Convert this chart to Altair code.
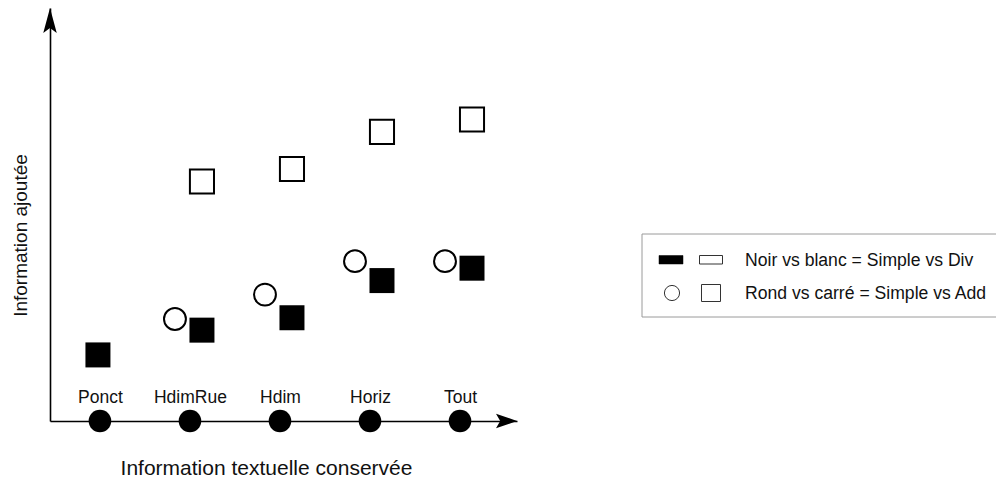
import altair as alt
import pandas as pd

# ---------------- data ----------------
categories = ["Ponct", "HdimRue", "Hdim", "Horiz", "Tout"]
base_simple = [0, 0, 0, 0, 0]                 # filled circles on the axis
carre_noir = [16, 22, 25, 34, 37]             # filled squares
rond_blanc = [None, 24.7, 30.6, 38.7, 38.7]   # open circles
carre_blanc = [None, 58, 61, 70, 73]          # open squares

legend_lines = ["Noir vs blanc = Simple vs Div", "Rond vs carré = Simple vs Add"]
x_title = "Information textuelle conservée"
y_title = "Information ajoutée"

FONT = "Liberation Sans"
W, H = 467, 413

rows = []
for kind, vals in [("base", base_simple), ("noir", carre_noir),
                   ("rond", rond_blanc), ("blanc", carre_blanc)]:
    for c, v in zip(categories, vals):
        if v is not None:
            rows.append({"cat": c, "kind": kind, "val": v})
df = pd.DataFrame(rows)

x_enc = alt.X(
    "cat:N", sort=categories,
    scale=alt.Scale(type="point", padding=0.594, align=0.467),
    axis=alt.Axis(domain=True, domainColor="black", domainWidth=1.6,
                  ticks=False, tickSize=0, grid=False,
                  labelPadding=-19, labelBaseline="alphabetic", labelAngle=0,
                  labelFont=FONT, labelFontSize=17.5, labelColor="#111",
                  title=x_title, titleFont=FONT, titleFontSize=21,
                  titleFontWeight="normal", titleColor="#111",
                  titleX=216, titleY=53, titleAlign="center",
                  titleBaseline="alphabetic"),
)
y_enc = alt.Y(
    "val:Q",
    scale=alt.Scale(domain=[0, 100], nice=False, zero=True),
    axis=alt.Axis(domain=True, domainColor="black", domainWidth=1.6,
                  ticks=False, labels=False, grid=False,
                  title=y_title, titleFont=FONT, titleFontSize=19,
                  titleFontWeight="normal", titleColor="#111",
                  titleAngle=-90, titleX=-24, titleY=227,
                  titleAlign="center", titleBaseline="alphabetic"),
)

base = alt.Chart(df).encode(x=x_enc, y=y_enc)

axis_dots = base.transform_filter("datum.kind == 'base'").mark_point(
    shape="circle", filled=True, size=510, color="black", opacity=1)

noir_ponct = base.transform_filter("datum.kind == 'noir' && datum.cat == 'Ponct'").mark_point(
    shape="square", filled=True, size=625, color="black", opacity=1, xOffset=-2)
noir = base.transform_filter("datum.kind == 'noir' && datum.cat != 'Ponct'").mark_point(
    shape="square", filled=True, size=625, color="black", opacity=1, xOffset=12)
rond = base.transform_filter("datum.kind == 'rond'").mark_point(
    shape="circle", filled=False, size=480, color="black", strokeWidth=2,
    opacity=1, xOffset=-15)
blanc = base.transform_filter("datum.kind == 'blanc'").mark_point(
    shape="square", filled=False, size=580, color="black", strokeWidth=2,
    opacity=1, xOffset=12)

one = alt.Chart(alt.Data(values=[{"k": 0}]))
arrow_y = one.mark_point(
    shape="M0,0 L0.54,2 L0,1.6 L-0.54,2 Z", filled=True, size=625,
    color="black", opacity=1).encode(x=alt.value(0), y=alt.value(0))
arrow_x = one.mark_point(
    shape="M0,0 L-2,-0.7 L-1.6,0 L-2,0.7 Z", filled=True, size=441,
    color="black", opacity=1).encode(x=alt.value(W), y=alt.value(H))

# ---------------- custom legend box ----------------
leg_box = one.mark_rect(fill="white", stroke="#9a9a9a", strokeWidth=1).encode(
    x=alt.value(592), x2=alt.value(1000), y=alt.value(226), y2=alt.value(309))
leg_fill = one.mark_rect(fill="black", stroke="black", strokeWidth=0.5).encode(
    x=alt.value(609), x2=alt.value(633), y=alt.value(247.5), y2=alt.value(256))
leg_empty = one.mark_rect(fill="white", stroke="#333", strokeWidth=1).encode(
    x=alt.value(649.5), x2=alt.value(672.5), y=alt.value(247.5), y2=alt.value(256))
leg_circle = one.mark_point(shape="circle", filled=False, size=230, color="#333",
                            strokeWidth=1, opacity=1).encode(
    x=alt.value(622), y=alt.value(285))
leg_square = one.mark_rect(fill="white", stroke="#333", strokeWidth=1).encode(
    x=alt.value(651.5), x2=alt.value(670.5), y=alt.value(276.5), y2=alt.value(293.5))
leg_t1 = one.mark_text(font=FONT, fontSize=17.6, align="left", baseline="alphabetic",
                       color="#111", text=legend_lines[0]).encode(
    x=alt.value(695), y=alt.value(258))
leg_t2 = one.mark_text(font=FONT, fontSize=17.6, align="left", baseline="alphabetic",
                       color="#111", text=legend_lines[1]).encode(
    x=alt.value(695), y=alt.value(291))

chart = alt.layer(
    axis_dots, noir_ponct, noir, rond, blanc, arrow_y, arrow_x,
    leg_box, leg_fill, leg_empty, leg_circle, leg_square, leg_t1, leg_t2,
).properties(
    width=W, height=H,
    padding={"left": 42, "top": 0, "right": 479, "bottom": 58},
    autosize=alt.AutoSizeParams(type="none"),
    background="white",
).configure_view(stroke=None)

chart.save("out.html", embed_options={"renderer": "svg", "actions": False})
